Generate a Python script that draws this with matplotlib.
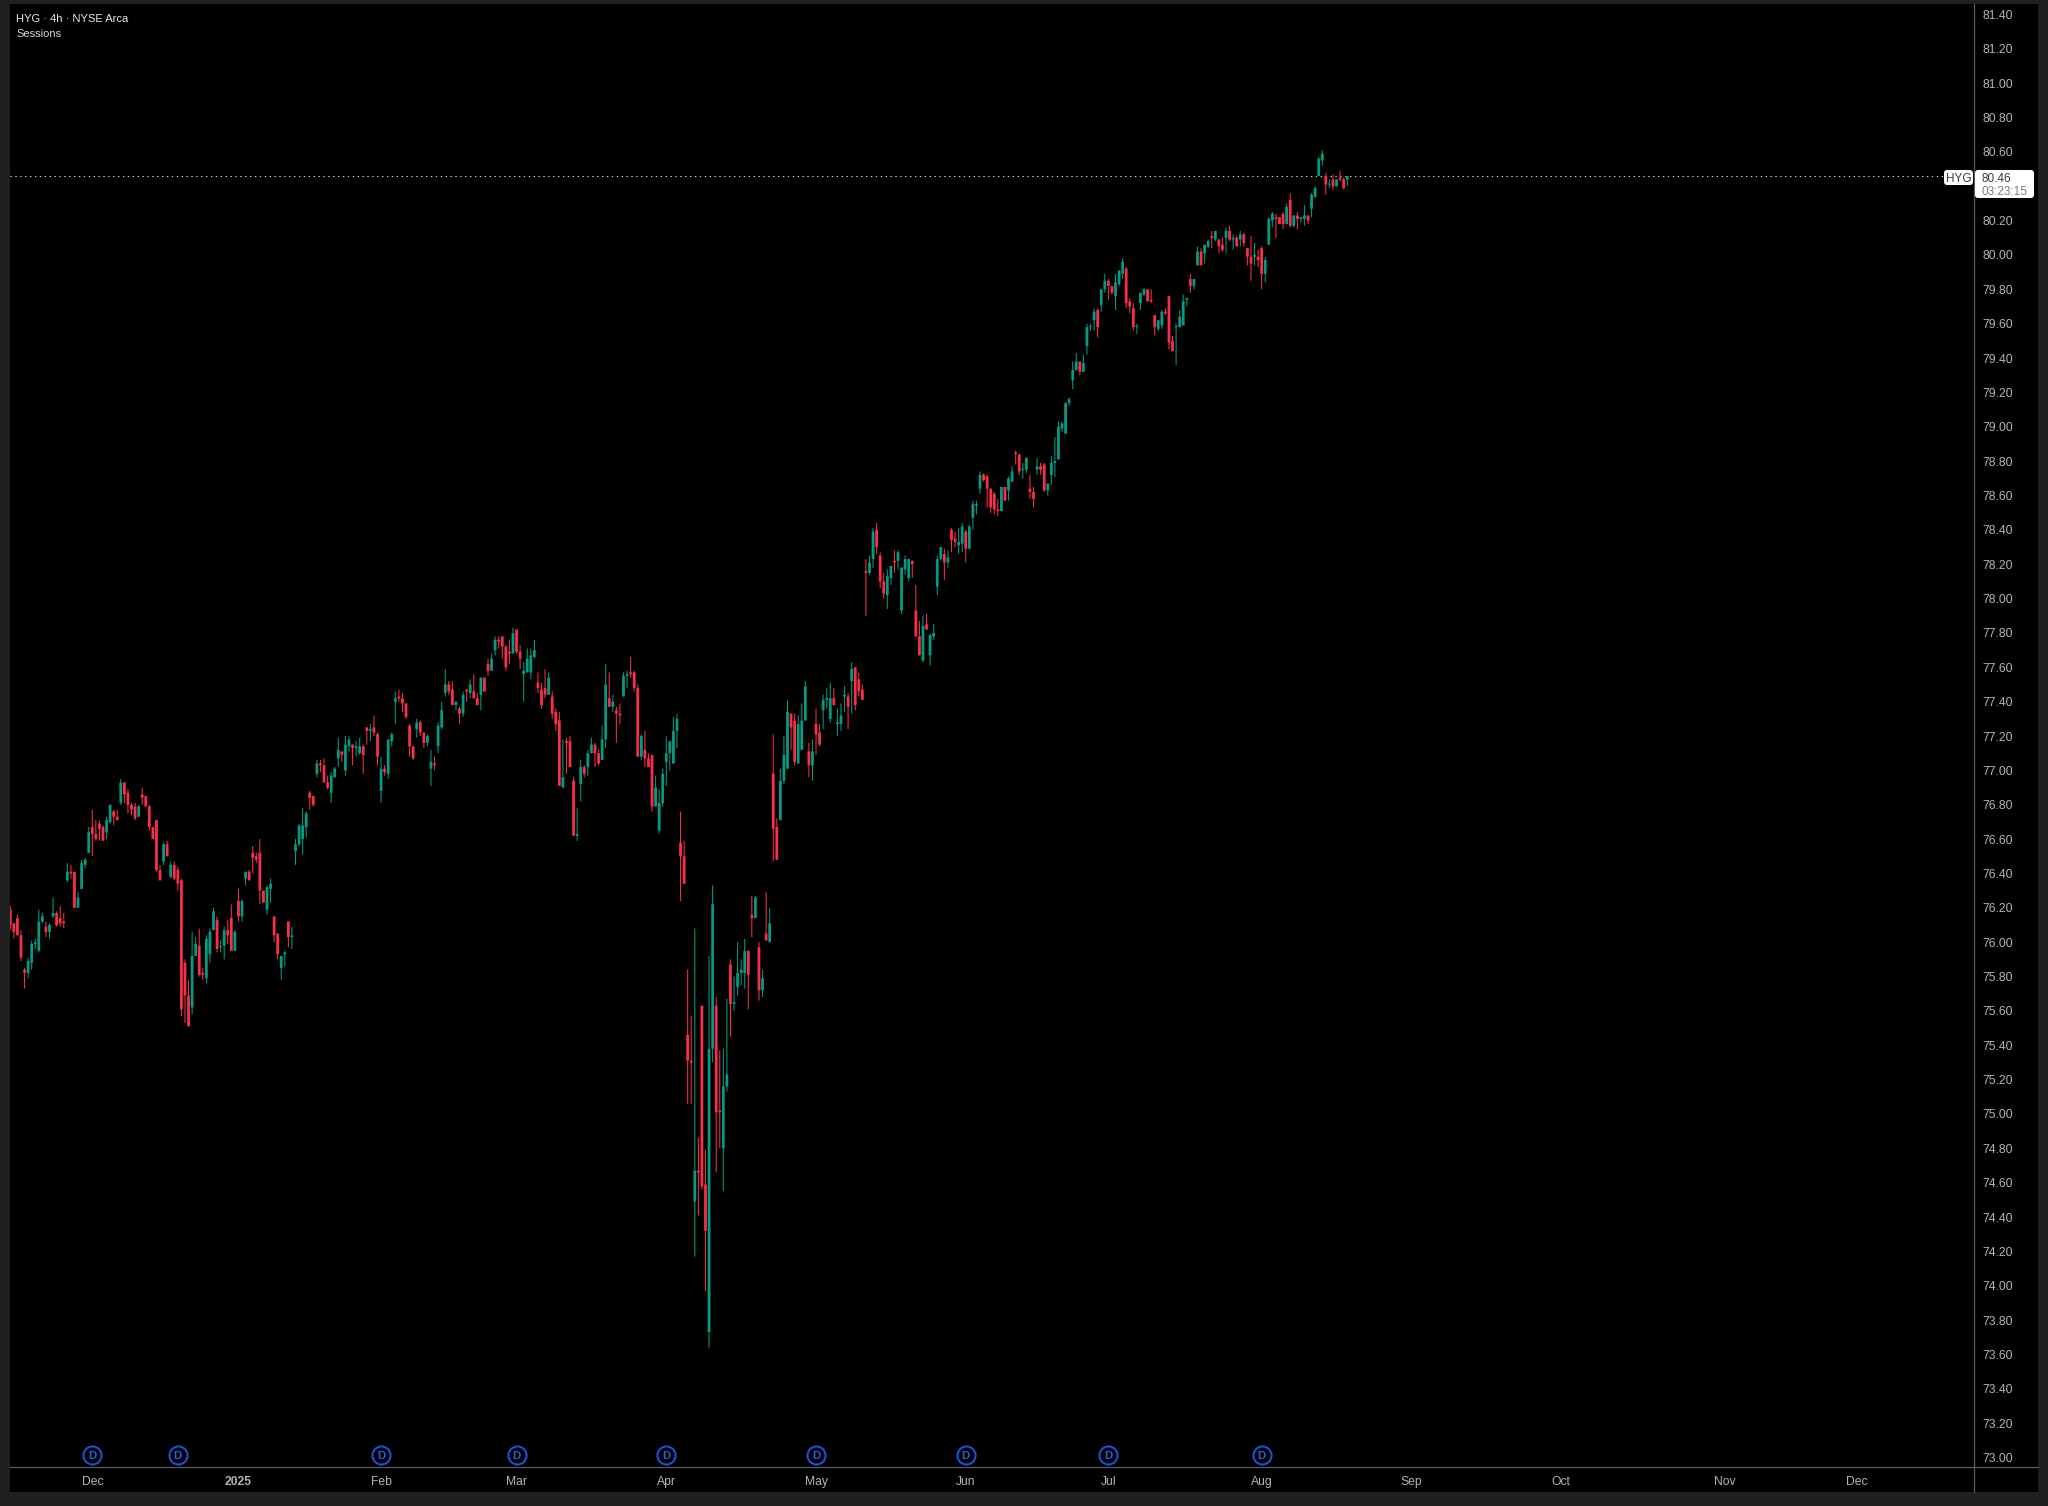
#!/usr/bin/env python3
import numpy as np
import matplotlib
matplotlib.use('Agg')
import matplotlib.pyplot as plt
from matplotlib.lines import Line2D
from matplotlib.patches import FancyBboxPatch, Rectangle
from matplotlib.transforms import IdentityTransform

plt.rcParams['font.family'] = ['Liberation Sans', 'DejaVu Sans']

# 4h candles, ten bars per row
opens = [
    76.19,76.11,76.14,76.04,75.84,75.82,75.88,75.99,75.95,76.12,
    76.09,76.06,76.15,76.17,76.14,76.12,76.36,76.41,76.41,76.20,
    76.31,76.45,76.52,76.67,76.63,76.69,76.67,76.64,76.70,76.76,
    76.73,76.81,76.93,76.87,76.80,76.79,76.73,76.86,76.85,76.79,
    76.67,76.71,76.42,76.47,76.57,76.38,76.45,76.42,76.36,75.88,
    75.69,75.62,75.92,75.98,75.82,75.79,75.93,76.07,76.13,75.97,
    75.98,76.07,76.14,75.95,76.24,76.15,76.37,76.41,76.52,76.50,
    76.52,76.30,76.19,76.31,76.15,76.05,75.85,75.93,76.12,76.03,
    76.53,76.57,76.60,76.67,76.87,76.85,76.98,77.04,77.03,76.93,
    76.87,76.96,77.07,77.11,77.00,77.14,77.15,77.13,77.10,77.14,
    77.25,77.23,77.25,77.21,76.88,77.01,76.98,77.17,77.40,77.43,
    77.42,77.39,77.26,77.14,77.24,77.28,77.22,77.16,77.01,77.04,
    77.14,77.25,77.45,77.50,77.47,77.38,77.36,77.33,77.47,77.45,
    77.46,77.42,77.44,77.54,77.62,77.58,77.70,77.76,77.78,77.72,
    77.69,77.68,77.82,77.69,77.56,77.57,77.57,77.66,77.51,77.47,
    77.48,77.44,77.43,77.34,77.29,76.90,77.17,77.17,76.94,76.62,
    76.92,77.02,77.02,77.10,77.15,77.10,77.06,77.18,77.42,77.37,
    77.35,77.33,77.43,77.55,77.57,77.57,77.48,77.08,77.12,77.07,
    77.09,76.79,76.65,76.81,77.05,77.10,77.04,77.23,76.58,76.50,
    75.46,75.31,74.49,74.67,75.63,74.59,73.73,75.38,75.63,75.02,
    74.80,75.16,75.87,75.64,75.74,75.82,75.82,75.95,76.16,76.14,
    75.97,75.72,76.05,76.00,76.98,76.67,76.71,76.94,77.01,77.33,
    77.29,77.04,77.12,77.29,77.11,77.03,77.27,77.22,77.35,77.41,
    77.30,77.42,77.27,77.27,77.43,77.43,77.52,77.60,77.53,77.47,
    78.16,78.15,78.23,78.40,78.25,78.10,78.02,78.12,78.22,78.22,
    77.93,78.17,78.12,78.22,77.93,77.78,77.64,77.85,77.67,77.78,
    78.07,78.23,78.26,78.21,78.40,78.35,78.31,78.32,78.39,78.29,
    78.47,78.54,78.64,78.72,78.71,78.64,78.61,78.52,78.51,78.65,
    78.63,78.68,78.85,78.84,78.75,78.75,78.64,78.62,78.75,78.77,
    78.78,78.63,78.72,78.79,78.81,78.99,78.96,79.14,79.27,79.33,
    79.38,79.32,79.47,79.58,79.62,79.68,79.71,79.80,79.85,79.82,
    79.76,79.83,79.89,79.92,79.73,79.69,79.58,79.72,79.77,79.80,
    79.74,79.65,79.57,79.59,79.67,79.76,79.50,79.58,79.58,79.59,
    79.74,79.86,79.82,79.94,80.02,80.01,80.05,80.11,80.09,80.09,
    80.06,80.10,80.14,80.09,80.10,80.09,80.12,80.04,79.99,79.99,
    79.99,80.04,79.89,80.06,80.20,80.22,80.22,80.24,80.18,80.32,
    80.17,80.23,80.21,80.21,80.23,80.27,80.34,80.46,80.55,80.46,
    80.41,80.44,80.40,80.45,80.44,80.44,
]
highs = [
    76.21,76.11,76.16,76.07,75.85,75.91,76.01,76.02,76.19,76.17,
    76.12,76.11,76.26,76.18,76.21,76.17,76.46,76.45,76.41,76.29,
    76.48,76.49,76.67,76.77,76.71,76.71,76.68,76.73,76.80,76.77,
    76.77,76.95,76.93,76.89,76.81,76.81,76.80,76.90,76.85,76.80,
    76.67,76.71,76.45,76.58,76.59,76.47,76.47,76.44,76.37,75.90,
    75.78,76.06,76.03,76.08,75.85,76.04,76.08,76.20,76.15,76.01,
    76.09,76.13,76.22,76.07,76.31,76.25,76.41,76.42,76.56,76.52,
    76.60,76.30,76.33,76.37,76.15,76.05,75.92,75.95,76.12,76.09,
    76.60,76.69,76.78,76.76,76.88,76.85,77.06,77.06,77.07,76.97,
    76.99,77.02,77.19,77.11,77.20,77.20,77.15,77.17,77.19,77.15,
    77.25,77.27,77.32,77.22,77.08,77.03,77.18,77.22,77.46,77.47,
    77.45,77.39,77.27,77.14,77.30,77.29,77.22,77.21,77.12,77.08,
    77.28,77.40,77.59,77.52,77.52,77.40,77.37,77.46,77.47,77.53,
    77.56,77.45,77.54,77.54,77.65,77.68,77.78,77.78,77.78,77.73,
    77.76,77.83,77.82,77.73,77.63,77.71,77.71,77.76,77.57,77.51,
    77.59,77.57,77.46,77.36,77.34,77.18,77.19,77.20,76.96,76.78,
    77.06,77.03,77.12,77.19,77.16,77.12,77.26,77.62,77.57,77.44,
    77.37,77.39,77.57,77.58,77.66,77.58,77.50,77.21,77.23,77.10,
    77.09,76.97,76.89,77.01,77.20,77.17,77.31,77.33,76.76,76.59,
    75.84,75.57,76.08,74.86,75.63,74.79,75.92,76.33,75.68,75.37,
    75.38,75.67,75.90,75.80,76.00,75.90,76.02,75.95,76.27,76.27,
    76.00,75.84,76.29,76.20,77.21,76.72,77.01,77.20,77.41,77.33,
    77.33,77.32,77.39,77.52,77.16,77.18,77.36,77.27,77.44,77.48,
    77.51,77.48,77.36,77.39,77.49,77.45,77.63,77.60,77.57,77.50,
    78.23,78.25,78.41,78.44,78.27,78.15,78.17,78.19,78.28,78.28,
    78.18,78.25,78.23,78.22,78.08,77.87,77.90,77.91,77.79,77.85,
    78.25,78.30,78.29,78.28,78.41,78.39,78.41,78.44,78.40,78.43,
    78.57,78.57,78.74,78.73,78.72,78.64,78.62,78.58,78.65,78.65,
    78.71,78.77,78.86,78.84,78.79,78.82,78.72,78.65,78.82,78.79,
    78.79,78.67,78.83,78.94,79.03,79.03,79.14,79.17,79.38,79.43,
    79.38,79.42,79.60,79.60,79.69,79.69,79.80,79.89,79.86,79.82,
    79.89,79.91,79.98,79.93,79.75,79.72,79.60,79.78,79.81,79.80,
    79.80,79.65,79.62,79.68,79.69,79.76,79.53,79.60,79.68,79.77,
    79.75,79.89,79.86,80.05,80.04,80.06,80.09,80.14,80.14,80.09,
    80.10,80.16,80.17,80.12,80.11,80.14,80.13,80.04,80.11,80.07,
    80.03,80.05,79.99,80.22,80.25,80.24,80.22,80.25,80.30,80.36,
    80.23,80.25,80.22,80.29,80.23,80.36,80.40,80.57,80.61,80.48,
    80.44,80.47,80.44,80.49,80.45,80.46,
]
lows = [
    76.07,76.02,76.04,75.89,75.73,75.79,75.84,75.96,75.94,76.11,
    76.03,76.02,76.14,76.09,76.09,76.08,76.35,76.37,76.20,76.20,
    76.31,76.43,76.52,76.50,76.59,76.59,76.59,76.60,76.69,76.68,
    76.71,76.80,76.81,76.75,76.74,76.71,76.73,76.80,76.79,76.65,
    76.60,76.41,76.36,76.45,76.50,76.37,76.36,76.30,75.57,75.53,
    75.51,75.58,75.92,75.80,75.78,75.76,75.88,76.07,75.94,75.94,
    75.90,75.99,75.95,75.95,76.12,76.12,76.33,76.36,76.40,76.46,
    76.22,76.23,76.16,76.23,76.00,75.90,75.78,75.86,75.97,75.96,
    76.45,76.56,76.51,76.61,76.77,76.79,76.96,76.99,76.93,76.89,
    76.81,76.96,77.02,77.05,76.97,77.11,77.03,77.08,77.09,76.98,
    77.15,77.17,77.20,77.03,76.81,76.97,76.95,77.14,77.27,77.40,
    77.34,77.30,77.08,77.06,77.19,77.20,77.13,77.14,76.91,77.00,
    77.10,77.24,77.43,77.44,77.38,77.35,77.27,77.31,77.40,77.42,
    77.42,77.38,77.35,77.46,77.55,77.58,77.67,77.71,77.65,77.58,
    77.62,77.68,77.68,77.59,77.40,77.57,77.53,77.65,77.45,77.36,
    77.42,77.44,77.30,77.23,76.91,76.90,76.98,77.02,76.62,76.59,
    76.82,76.96,76.97,77.10,77.02,77.03,77.06,77.13,77.37,77.34,
    77.16,77.27,77.43,77.48,77.54,77.46,77.08,77.06,77.02,77.02,
    76.76,76.79,76.63,76.79,76.91,77.00,77.04,77.13,76.24,76.34,
    75.06,75.06,74.17,74.41,74.56,73.97,73.64,75.30,74.66,74.80,
    74.55,75.13,75.45,75.60,75.69,75.75,75.73,75.61,76.03,76.14,
    75.66,75.68,76.01,76.00,76.47,76.48,76.71,76.92,77.01,77.12,
    77.03,77.04,77.12,77.29,76.96,76.94,77.09,77.14,77.24,77.36,
    77.28,77.38,77.20,77.23,77.34,77.24,77.33,77.35,77.43,77.41,
    77.90,78.14,78.18,78.26,78.06,78.00,77.94,78.08,78.15,78.17,
    77.91,78.14,78.10,78.12,77.78,77.67,77.63,77.82,77.61,77.76,
    78.02,78.22,78.11,78.18,78.27,78.30,78.26,78.27,78.21,78.29,
    78.40,78.49,78.61,78.68,78.53,78.50,78.49,78.48,78.51,78.57,
    78.57,78.68,78.78,78.72,78.70,78.73,78.58,78.53,78.72,78.72,
    78.62,78.60,78.66,78.71,78.81,78.97,78.96,79.12,79.22,79.33,
    79.30,79.32,79.42,79.56,79.56,79.52,79.67,79.78,79.74,79.77,
    79.68,79.82,79.86,79.69,79.66,79.56,79.54,79.68,79.76,79.73,
    79.72,79.53,79.56,79.57,79.65,79.45,79.44,79.36,79.58,79.59,
    79.70,79.78,79.80,79.94,79.94,79.95,80.04,80.04,80.08,80.01,
    80.02,80.01,80.08,80.03,80.05,80.05,80.05,79.94,79.85,79.94,
    79.93,79.80,79.84,80.06,80.16,80.10,80.18,80.15,80.18,80.16,
    80.16,80.15,80.19,80.17,80.18,80.22,80.33,80.46,80.52,80.35,
    80.39,80.38,80.40,80.43,80.38,80.40,
]
closes = [
    76.10,76.06,76.04,75.91,75.82,75.89,75.99,76.00,76.12,76.15,
    76.06,76.10,76.17,76.10,76.11,76.11,76.41,76.40,76.20,76.26,
    76.46,76.48,76.64,76.63,76.60,76.66,76.59,76.71,76.80,76.73,
    76.71,76.93,76.86,76.80,76.77,76.72,76.79,76.84,76.79,76.67,
    76.60,76.42,76.36,76.57,76.50,76.45,76.37,76.34,75.61,75.69,
    75.51,75.92,75.99,75.81,75.81,76.02,76.06,76.18,75.96,75.97,
    76.07,76.04,75.95,76.06,76.15,76.24,76.41,76.36,76.49,76.48,
    76.30,76.23,76.32,76.34,76.04,75.93,75.92,75.94,76.03,76.04,
    76.57,76.68,76.68,76.75,76.84,76.80,77.04,77.03,76.93,76.90,
    76.97,77.01,77.12,77.09,77.15,77.18,77.13,77.14,77.14,77.09,
    77.23,77.24,77.22,77.08,77.01,76.99,77.18,77.21,77.42,77.42,
    77.39,77.31,77.14,77.07,77.28,77.22,77.16,77.20,77.05,77.03,
    77.26,77.35,77.50,77.46,77.38,77.40,77.33,77.44,77.46,77.50,
    77.42,77.38,77.54,77.46,77.58,77.65,77.76,77.75,77.72,77.60,
    77.68,77.80,77.69,77.65,77.58,77.65,77.67,77.70,77.48,77.38,
    77.44,77.54,77.33,77.27,76.91,76.96,77.16,77.02,76.62,76.63,
    77.02,76.98,77.10,77.15,77.10,77.04,77.18,77.50,77.37,77.40,
    77.33,77.32,77.55,77.56,77.56,77.48,77.08,77.20,77.07,77.02,
    76.79,76.90,76.81,76.98,77.10,77.17,77.23,77.30,76.50,76.34,
    75.31,75.30,74.67,74.66,74.58,74.32,75.38,76.22,75.01,75.01,
    75.16,75.23,75.64,75.65,75.82,75.84,75.95,75.81,76.14,76.26,
    75.72,75.79,76.01,76.11,76.66,76.48,76.94,77.09,77.34,77.25,
    77.05,77.27,77.29,77.49,77.03,77.11,77.21,77.15,77.41,77.42,
    77.42,77.38,77.28,77.32,77.44,77.37,77.59,77.38,77.46,77.41,
    78.15,78.21,78.39,78.30,78.10,78.03,78.13,78.19,78.21,78.27,
    78.18,78.23,78.23,78.20,77.78,77.67,77.84,77.82,77.79,77.80,
    78.23,78.30,78.21,78.24,78.34,78.33,78.33,78.42,78.29,78.42,
    78.55,78.55,78.72,78.69,78.64,78.53,78.52,78.51,78.65,78.57,
    78.70,78.74,78.84,78.74,78.75,78.82,78.62,78.58,78.77,78.75,
    78.63,78.67,78.79,78.80,79.00,79.02,79.14,79.16,79.33,79.38,
    79.32,79.37,79.58,79.58,79.67,79.58,79.80,79.85,79.82,79.78,
    79.84,79.91,79.96,79.72,79.70,79.58,79.58,79.78,79.80,79.73,
    79.73,79.58,79.62,79.67,79.66,79.49,79.44,79.58,79.64,79.73,
    79.75,79.82,79.86,80.02,79.94,80.06,80.08,80.10,80.14,80.05,
    80.03,80.14,80.09,80.10,80.05,80.12,80.07,79.99,79.95,80.00,
    79.97,79.89,79.97,80.21,80.24,80.21,80.18,80.18,80.28,80.17,
    80.23,80.21,80.22,80.23,80.20,80.35,80.39,80.56,80.59,80.41,
    80.41,80.40,80.44,80.44,80.39,80.46,
]

month_pos = [23, 64, 104, 142, 184, 226, 268, 308, 351, 393, 435, 481, 518]
month_labels = ['Dec', '2025', 'Feb', 'Mar', 'Apr', 'May', 'Jun', 'Jul', 'Aug', 'Sep', 'Oct', 'Nov', 'Dec']
dividend_pos = [23, 47, 104, 142, 184, 226, 268, 308, 351]
price_ticks = [73.0 + 0.2 * k for k in range(43)]
last_price = 80.46

UP = '#089981'
DOWN = '#f6304a'
W, H = 2048, 1506


def fx(px):
    return px / W


def fy(py):
    return 1 - py / H


def round_box(fig, x0, y0, x1, y1):
    # box given in picture pixels, y going down
    box = FancyBboxPatch((x0, H - y1), x1 - x0, y1 - y0, boxstyle='round,pad=0,rounding_size=3',
                         facecolor='white', edgecolor='none', transform=IdentityTransform(), zorder=5)
    fig.add_artist(box)


fig = plt.figure(figsize=(W / 100, H / 100), dpi=100, facecolor='#202020')
fig.add_artist(Rectangle((fx(10), fy(1492)), (2038 - 10) / W, (1492 - 4) / H, transform=fig.transFigure,
                         facecolor='black', edgecolor='none', zorder=-1))

ax = fig.add_axes([fx(10), fy(1467), (1974 - 10) / W, (1467 - 4) / H], facecolor='black')
ax.set_xlim(-0.08, 550.8)
ax.set_ylim(72.945, 81.461)

o = np.array(opens)
h = np.array(highs)
l = np.array(lows)
c = np.array(closes)
assert len(o) == len(h) == len(l) == len(c)
idx = np.arange(len(o))
colors = [UP if cc >= oo else DOWN for oo, cc in zip(o, c)]

ax.axhline(last_price, color='#d8d8d8', lw=0.8, ls=(0, (1.2, 3.2)), zorder=1)
ax.vlines(idx, l, h, colors=colors, lw=0.75, zorder=2, snap=False)
ax.bar(idx, np.maximum(np.abs(c - o), 0.006), bottom=np.minimum(o, c), width=0.78, color=colors, linewidth=0,
       zorder=3, snap=False)

for spine in ax.spines.values():
    spine.set_visible(False)
ax.yaxis.tick_right()
ax.set_yticks(price_ticks)
ax.set_yticklabels(['%.2f' % p for p in price_ticks], fontsize=8.7, color='#b4b4b4', ha='left')
ax.tick_params(axis='y', length=0, pad=5.8)
ax.set_xticks(month_pos)
ax.set_xticklabels(month_labels, fontsize=8.7, color='#b4b4b4')
ax.tick_params(axis='x', length=0, pad=6.2)
ax.get_xticklabels()[1].set_fontweight('bold')

# dividend markers along the bottom of the pane
ax.plot(dividend_pos, [0.0083] * len(dividend_pos), ls='none', marker='o', ms=13.0, mfc='none', mec='#1d50d6',
        mew=1.5, transform=ax.get_xaxis_transform(), zorder=4)
for pos in dividend_pos:
    ax.text(pos, 0.0083, 'D', color='#2a5fe0', fontsize=8.2, fontweight='bold', ha='center', va='center_baseline',
            transform=ax.get_xaxis_transform(), zorder=4)

# pane separators
fig.add_artist(Line2D([fx(1974), fx(1974)], [fy(4), fy(1492)], color='#5c5c5c', lw=0.9, zorder=2))
fig.add_artist(Line2D([fx(10), fx(2038)], [fy(1467), fy(1467)], color='#5c5c5c', lw=0.9, zorder=2))

fig.text(fx(16), fy(19), 'HYG · 4h · NYSE Arca', fontsize=8.0, color='#e8e8e8', va='center')
fig.text(fx(16), fy(34), 'Sessions', fontsize=8.0, color='#d8d8d8', va='center')

# last price tags
round_box(fig, 1944, 170, 1973, 185)
round_box(fig, 1975, 170, 2034, 198)
fig.text(fx(1958.5), fy(177.5), 'HYG', fontsize=8.5, color='#3a3a3a', ha='center', va='center_baseline', zorder=6)
fig.text(fx(1982), fy(177.5), '80.46', fontsize=8.5, color='#3a3a3a', va='center_baseline', zorder=6)
fig.text(fx(1982), fy(190.5), '03:23:15', fontsize=8.5, color='#7c7c7c', va='center_baseline', zorder=6)

fig.savefig('out.png', dpi=100, facecolor=fig.get_facecolor())
